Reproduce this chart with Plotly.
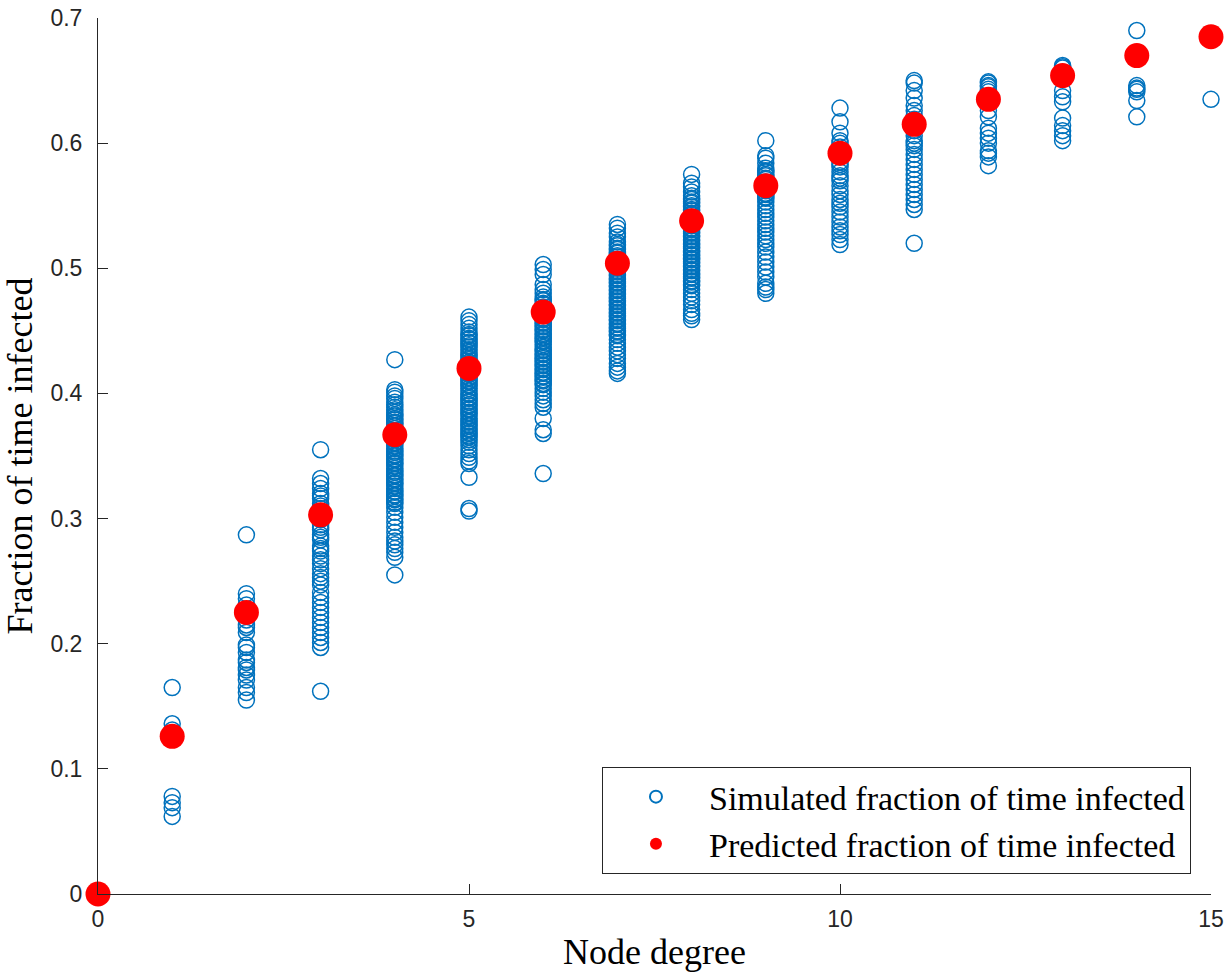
import plotly.graph_objects as go

degrees = list(range(16))

predicted = [0.0, 0.126, 0.225, 0.303, 0.367, 0.420, 0.465, 0.504, 0.538,
             0.566, 0.592, 0.615, 0.635, 0.654, 0.670, 0.685]

sim_by_degree = {
    1: [0.165, 0.136, 0.131, 0.078, 0.073, 0.069, 0.062],
    2: [0.287, 0.240, 0.236, 0.231, 0.225, 0.219, 0.215, 0.213, 0.209, 0.199,
        0.197, 0.193, 0.187, 0.185, 0.181, 0.179, 0.175, 0.171, 0.165, 0.161, 0.155],
    3: [0.355, 0.332, 0.328, 0.324, 0.320, 0.318, 0.316, 0.312, 0.310, 0.308,
        0.304, 0.302, 0.299, 0.295, 0.293, 0.291, 0.287, 0.285, 0.283, 0.278,
        0.276, 0.274, 0.270, 0.267, 0.264, 0.260, 0.256, 0.253, 0.250, 0.247,
        0.241, 0.237, 0.233, 0.229, 0.225, 0.221, 0.217, 0.213, 0.209, 0.205,
        0.201, 0.197, 0.162],
    4: [0.427, 0.403, 0.401, 0.398, 0.396, 0.393, 0.391, 0.389, 0.387, 0.385,
        0.383, 0.382, 0.380, 0.379, 0.377, 0.376, 0.374, 0.372, 0.370, 0.369,
        0.367, 0.366, 0.364, 0.363, 0.361, 0.360, 0.358, 0.356, 0.354, 0.353,
        0.351, 0.350, 0.348, 0.347, 0.345, 0.344, 0.342, 0.340, 0.338, 0.337,
        0.335, 0.334, 0.332, 0.331, 0.329, 0.328, 0.326, 0.324, 0.322, 0.321,
        0.319, 0.318, 0.316, 0.315, 0.313, 0.312, 0.309, 0.305, 0.301, 0.297,
        0.293, 0.289, 0.285, 0.282, 0.279, 0.276, 0.273, 0.269, 0.255],
    5: [0.461, 0.458, 0.455, 0.452, 0.449, 0.447, 0.446, 0.444, 0.443, 0.441,
        0.440, 0.438, 0.437, 0.435, 0.433, 0.431, 0.430, 0.428, 0.427, 0.425,
        0.424, 0.422, 0.421, 0.419, 0.418, 0.416, 0.415, 0.413, 0.412, 0.410,
        0.409, 0.407, 0.406, 0.404, 0.402, 0.400, 0.399, 0.397, 0.396, 0.394,
        0.393, 0.391, 0.390, 0.388, 0.387, 0.385, 0.384, 0.382, 0.380, 0.378,
        0.377, 0.375, 0.374, 0.372, 0.371, 0.369, 0.368, 0.366, 0.365, 0.363,
        0.361, 0.358, 0.355, 0.352, 0.349, 0.346, 0.344, 0.333, 0.308, 0.306],
    6: [0.503, 0.499, 0.495, 0.487, 0.483, 0.480, 0.477, 0.475, 0.474, 0.472,
        0.471, 0.469, 0.468, 0.466, 0.465, 0.463, 0.462, 0.460, 0.459, 0.457,
        0.456, 0.454, 0.453, 0.451, 0.450, 0.448, 0.447, 0.445, 0.444, 0.442,
        0.441, 0.439, 0.437, 0.435, 0.434, 0.432, 0.431, 0.429, 0.428, 0.426,
        0.425, 0.423, 0.422, 0.420, 0.419, 0.417, 0.416, 0.414, 0.413, 0.411,
        0.410, 0.408, 0.407, 0.404, 0.401, 0.398, 0.395, 0.392, 0.389, 0.380,
        0.371, 0.368, 0.336],
    7: [0.535, 0.532, 0.528, 0.525, 0.521, 0.519, 0.518, 0.516, 0.515, 0.513,
        0.512, 0.510, 0.509, 0.507, 0.506, 0.504, 0.503, 0.501, 0.500, 0.498,
        0.497, 0.495, 0.494, 0.492, 0.491, 0.489, 0.488, 0.486, 0.485, 0.483,
        0.482, 0.480, 0.479, 0.477, 0.476, 0.474, 0.473, 0.471, 0.470, 0.468,
        0.467, 0.465, 0.464, 0.462, 0.461, 0.459, 0.458, 0.456, 0.455, 0.453,
        0.452, 0.450, 0.449, 0.447, 0.446, 0.443, 0.440, 0.437, 0.434, 0.431,
        0.428, 0.424, 0.421, 0.418, 0.416],
    8: [0.575, 0.568, 0.565, 0.561, 0.558, 0.556, 0.555, 0.553, 0.552, 0.550,
        0.549, 0.547, 0.546, 0.544, 0.543, 0.541, 0.540, 0.538, 0.537, 0.535,
        0.534, 0.532, 0.531, 0.529, 0.528, 0.526, 0.525, 0.523, 0.522, 0.520,
        0.519, 0.517, 0.516, 0.514, 0.513, 0.511, 0.510, 0.508, 0.507, 0.505,
        0.504, 0.502, 0.501, 0.499, 0.498, 0.496, 0.495, 0.493, 0.492, 0.490,
        0.489, 0.487, 0.486, 0.483, 0.480, 0.477, 0.474, 0.471, 0.467, 0.464,
        0.462, 0.459],
    9: [0.602, 0.590, 0.588, 0.584, 0.580, 0.578, 0.577, 0.575, 0.574, 0.572,
        0.571, 0.569, 0.568, 0.566, 0.565, 0.563, 0.562, 0.560, 0.559, 0.557,
        0.556, 0.553, 0.550, 0.547, 0.544, 0.541, 0.538, 0.535, 0.532, 0.529,
        0.526, 0.523, 0.520, 0.517, 0.513, 0.509, 0.505, 0.501, 0.497, 0.493,
        0.488, 0.485, 0.483, 0.480],
    10: [0.628, 0.617, 0.608, 0.602, 0.600, 0.597, 0.592, 0.589, 0.585, 0.583,
         0.581, 0.577, 0.574, 0.572, 0.570, 0.566, 0.562, 0.559, 0.555, 0.552,
         0.549, 0.545, 0.541, 0.537, 0.533, 0.530, 0.527, 0.523, 0.519],
    11: [0.650, 0.648, 0.642, 0.636, 0.630, 0.626, 0.622, 0.619, 0.615, 0.610,
         0.606, 0.602, 0.600, 0.598, 0.595, 0.591, 0.587, 0.583, 0.579, 0.575,
         0.571, 0.567, 0.563, 0.559, 0.555, 0.551, 0.547, 0.520],
    12: [0.649, 0.648, 0.646, 0.645, 0.643, 0.641, 0.636, 0.626, 0.621, 0.612,
         0.608, 0.604, 0.600, 0.594, 0.592, 0.589, 0.582],
    13: [0.662, 0.661, 0.660, 0.654, 0.642, 0.637, 0.633, 0.620, 0.614, 0.610,
         0.606, 0.602],
    14: [0.690, 0.646, 0.644, 0.643, 0.641, 0.634, 0.621],
    15: [0.635],
}

sim_x = []
sim_y = []
for d in degrees:
    for v in sim_by_degree.get(d, []):
        sim_x.append(d)
        sim_y.append(v)

x_ticks = [0, 5, 10, 15]
y_ticks = [0, 0.1, 0.2, 0.3, 0.4, 0.5, 0.6, 0.7]
y_tick_labels = ["0", "0.1", "0.2", "0.3", "0.4", "0.5", "0.6", "0.7"]

SERIF = "Liberation Serif, Times New Roman, serif"
SANS = "Liberation Sans, Arial, Helvetica, sans-serif"
AX = "#262626"

fig = go.Figure()
fig.add_trace(go.Scatter(
    x=sim_x, y=sim_y, mode="markers",
    name="Simulated fraction of time infected",
    marker=dict(symbol="circle-open", size=16, color="#0072BD",
                line=dict(width=1.5, color="#0072BD")),
    cliponaxis=False,
))
fig.add_trace(go.Scatter(
    x=degrees, y=predicted, mode="markers",
    name="Predicted fraction of time infected",
    marker=dict(symbol="circle", size=25, color="#FF0000",
                line=dict(width=0)),
    cliponaxis=False,
))

fig.update_layout(
    width=1232, height=972,
    margin=dict(l=98, r=21, t=18, b=78),
    paper_bgcolor="white", plot_bgcolor="white",
    showlegend=True,
    legend=dict(
        x=0.982, y=0.0228, xanchor="right", yanchor="bottom",
        bgcolor="white", bordercolor=AX, borderwidth=1,
        font=dict(family=SERIF, size=34, color="black"),
        itemsizing="constant", itemwidth=96,
        tracegroupgap=0,
    ),
    xaxis=dict(
        range=[0, 15], tickvals=x_ticks, ticktext=[str(t) for t in x_ticks],
        showgrid=False, zeroline=False, showline=True, linecolor=AX, linewidth=1,
        ticks="inside", ticklen=10, tickcolor=AX, tickwidth=1,
        tickfont=dict(family=SANS, size=23, color=AX),
        ticklabelstandoff=4,
        title=dict(text="Node degree", font=dict(family=SERIF, size=36, color="black"),
                   standoff=12),
        automargin=False,
    ),
    yaxis=dict(
        range=[0, 0.7], tickvals=y_ticks, ticktext=y_tick_labels,
        showgrid=False, zeroline=False, showline=True, linecolor=AX, linewidth=1,
        ticks="inside", ticklen=10, tickcolor=AX, tickwidth=1,
        tickfont=dict(family=SANS, size=23, color=AX),
        ticklabelstandoff=10,
        title=dict(text="Fraction of time infected",
                   font=dict(family=SERIF, size=36, color="black"), standoff=10),
        automargin=False,
    ),
)

fig.write_html("out.html")
